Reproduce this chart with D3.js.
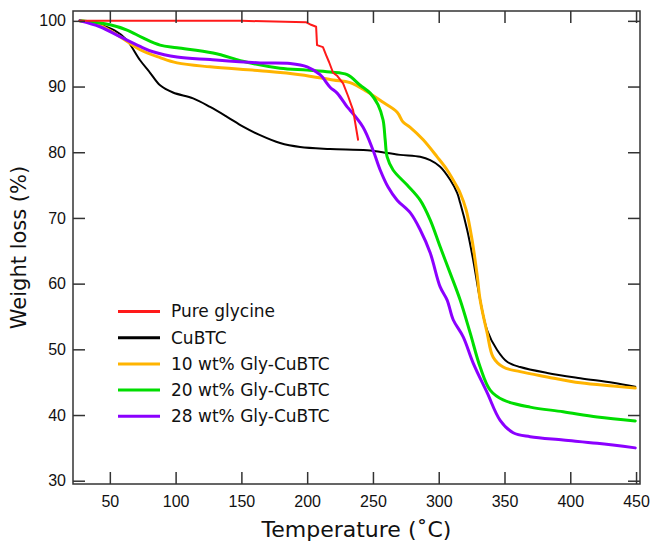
<!DOCTYPE html>
<html>
<head>
<meta charset="utf-8">
<script src="https://cdn.jsdelivr.net/npm/d3@7"></script>
<style>
  body { margin: 0; background: #fff; }
  svg { display: block; font-family: "DejaVu Sans", sans-serif; }
</style>
</head>
<body>
<svg width="654" height="547"></svg>
<script>
// TGA curves: [temperature (°C), weight (%)]
const pureGlycine = [
  [27, 100], [100, 100], [150, 100], [199, 99.8], [203, 99.4], [206.8, 99.1],
  [207.5, 96.3], [212, 96.0], [214.4, 94.8], [216.7, 93.7], [219.7, 92.1],
  [223, 91.6], [227.3, 90.5], [231, 88.6], [234.9, 86.4], [238.7, 81.9]
];
const cubtc = [
  [27.3, 100], [42.5, 99.4], [53.9, 98.5], [62.8, 97.1], [73, 94.0], [80.6, 92.1],
  [88.2, 90.2], [98, 89.1], [113.3, 88.2], [126.2, 86.9], [139.1, 85.4],
  [151.3, 83.9], [164.2, 82.6], [179.4, 81.4], [194.6, 80.8], [217.4, 80.5],
  [245.6, 80.3], [260.8, 79.9], [270.7, 79.6], [285.9, 79.3], [293.5, 78.8],
  [301.1, 77.8], [308.7, 75.8], [314, 73.8], [316.3, 72.3], [321.6, 68.2],
  [326.2, 63.6], [331.5, 57.5], [336.8, 52.9], [344.4, 49.9], [352, 48.1],
  [361.9, 47.3], [382.5, 46.4], [407.6, 45.6], [432.6, 44.9], [449.4, 44.3]
];
const gly10 = [
  [27.3, 100], [42.5, 99.3], [57.7, 97.6], [73, 95.6], [88.2, 94.4], [101.1, 93.6],
  [126.2, 93.0], [164.2, 92.4], [194.6, 91.8], [219.7, 91.0], [232.6, 90.6],
  [245.6, 89.2], [257.7, 87.6], [268.4, 86.1], [272.9, 84.6], [278.3, 83.8],
  [288.2, 81.9], [298.8, 79.3], [306.4, 77.3], [314, 74.7], [316.3, 73.8],
  [320.9, 71.2], [325.4, 66.6], [329.2, 61.3], [331.5, 57.5], [336.8, 52.5],
  [341.4, 48.8], [349, 47.3], [361.9, 46.6], [382.5, 45.8], [407.6, 44.9],
  [432.6, 44.4], [449.4, 44.1]
];
const gly20 = [
  [27.3, 100], [50.1, 99.4], [63.1, 98.6], [75.2, 97.4], [88.2, 96.3], [101.1, 95.9],
  [128.5, 95.1], [154.3, 93.7], [179.4, 92.8], [200, 92.5], [217.4, 92.2],
  [230.4, 91.8], [240.3, 90.2], [247.9, 89.0], [253.9, 87.2], [257.7, 84.9],
  [259.3, 81.9], [260.8, 79.3], [265.3, 77.3], [276, 75.0], [285.9, 72.7],
  [293.5, 69.7], [301.1, 65.6], [308.7, 61.6], [316.3, 57.5], [323.9, 52.5],
  [331.5, 47.3], [339.1, 43.8], [349, 42.3], [369.5, 41.2], [394.6, 40.5],
  [420.5, 39.7], [449.4, 39.1]
];
const gly28 = [
  [27.3, 100], [42.5, 99.1], [57.7, 97.6], [73, 96.1], [82.8, 95.3], [101.1, 94.5],
  [126.2, 94.1], [164.2, 93.6], [187, 93.5], [200, 93.0], [209.8, 91.8],
  [217.4, 89.9], [222.8, 89.0], [230.4, 86.9], [232.6, 86.4], [242.5, 83.8],
  [250.1, 80.3], [255.5, 77.3], [261.5, 74.7], [268.4, 72.7], [278.3, 70.8],
  [285.9, 68.2], [293.5, 64.7], [301.1, 59.5], [306.4, 57.5], [311, 54.5],
  [318.6, 51.9], [326.2, 47.9], [336.8, 43.4], [346.7, 39.2], [356.6, 37.3],
  [369.5, 36.7], [394.6, 36.2], [420.5, 35.7], [449.4, 35.0]
];

const seriesNames = ['Pure glycine', 'CuBTC', '10 wt% Gly-CuBTC', '20 wt% Gly-CuBTC', '28 wt% Gly-CuBTC'];
const seriesData = [pureGlycine, cubtc, gly10, gly20, gly28];
const seriesColors = ['#ff1a1a', '#000000', '#ffb400', '#00dd00', '#8b00ff'];
const seriesWidths = [2, 2, 3, 3, 3];

const xTicks = [50, 100, 150, 200, 250, 300, 350, 400, 450];
const yTicks = [30, 40, 50, 60, 70, 80, 90, 100];

const svg = d3.select('svg');
const width = +svg.attr('width');
const height = +svg.attr('height');
const margin = {top: 11, right: 14, bottom: 63, left: 73};
const innerWidth = width - margin.left - margin.right;
const innerHeight = height - margin.top - margin.bottom;

const xScale = d3.scaleLinear().domain([22, 453]).range([0, innerWidth]);
const yScale = d3.scaleLinear().domain([29.5, 101.5]).range([innerHeight, 0]);

const g = svg.append('g')
  .attr('transform', `translate(${margin.left},${margin.top})`);

// smooth curves for the composites, straight segments for the stepped glycine trace
const smoothLine = d3.line()
  .x(d => xScale(d[0]))
  .y(d => yScale(d[1]))
  .curve(d3.curveCatmullRom.alpha(0.5));
const stepLine = d3.line()
  .x(d => xScale(d[0]))
  .y(d => yScale(d[1]));

// draw back to front so the glycine trace sits on top
const order = [1, 2, 3, 4, 0];
order.forEach(i => {
  g.append('path')
    .datum(seriesData[i])
    .attr('fill', 'none')
    .attr('stroke', seriesColors[i])
    .attr('stroke-width', seriesWidths[i])
    .attr('stroke-linejoin', 'round')
    .attr('stroke-linecap', 'round')
    .attr('d', i === 0 ? stepLine : smoothLine);
});

// axes, ticks pointing inward on all four sides
const tickColor = '#333';
const styleAxis = sel => {
  sel.select('.domain').remove();
  sel.selectAll('.tick line').attr('stroke', tickColor).attr('stroke-width', 1.5);
  sel.selectAll('.tick text').attr('fill', '#111').style('font-size', '16px');
};
const noLabels = sel => sel.selectAll('.tick text').remove();

g.append('g')
  .attr('transform', `translate(0,${innerHeight})`)
  .call(d3.axisBottom(xScale).tickValues(xTicks).tickSizeInner(-12).tickSizeOuter(0).tickPadding(12))
  .call(styleAxis);

g.append('g')
  .call(d3.axisTop(xScale).tickValues(xTicks).tickSizeInner(-12).tickSizeOuter(0))
  .call(styleAxis)
  .call(noLabels);

g.append('g')
  .call(d3.axisLeft(yScale).tickValues(yTicks).tickSizeInner(-12).tickSizeOuter(0).tickPadding(7))
  .call(styleAxis);

g.append('g')
  .attr('transform', `translate(${innerWidth},0)`)
  .call(d3.axisRight(yScale).tickValues(yTicks).tickSizeInner(-12).tickSizeOuter(0))
  .call(styleAxis)
  .call(noLabels);

// frame
g.append('rect')
  .attr('width', innerWidth)
  .attr('height', innerHeight)
  .attr('fill', 'none')
  .attr('stroke', tickColor)
  .attr('stroke-width', 1.5);

// axis titles
g.append('text')
  .attr('x', innerWidth / 2)
  .attr('y', innerHeight + 53)
  .attr('text-anchor', 'middle')
  .attr('fill', '#111')
  .style('font-size', '22px')
  .text('Temperature (˚C)');

g.append('text')
  .attr('transform', `translate(${-47},${innerHeight / 2}) rotate(-90)`)
  .attr('text-anchor', 'middle')
  .attr('fill', '#111')
  .style('font-size', '21px')
  .text('Weight loss (%)');

// legend
const legend = g.append('g').attr('transform', 'translate(45,300.5)');
seriesNames.forEach((name, i) => {
  const row = legend.append('g').attr('transform', `translate(0,${i * 26.2})`);
  row.append('line')
    .attr('x1', 0).attr('x2', 42)
    .attr('stroke', seriesColors[i])
    .attr('stroke-width', 3);
  row.append('text')
    .attr('x', 53)
    .attr('dy', '0.35em')
    .attr('fill', '#111')
    .style('font-size', '17px')
    .text(name);
});
</script>
</body>
</html>
